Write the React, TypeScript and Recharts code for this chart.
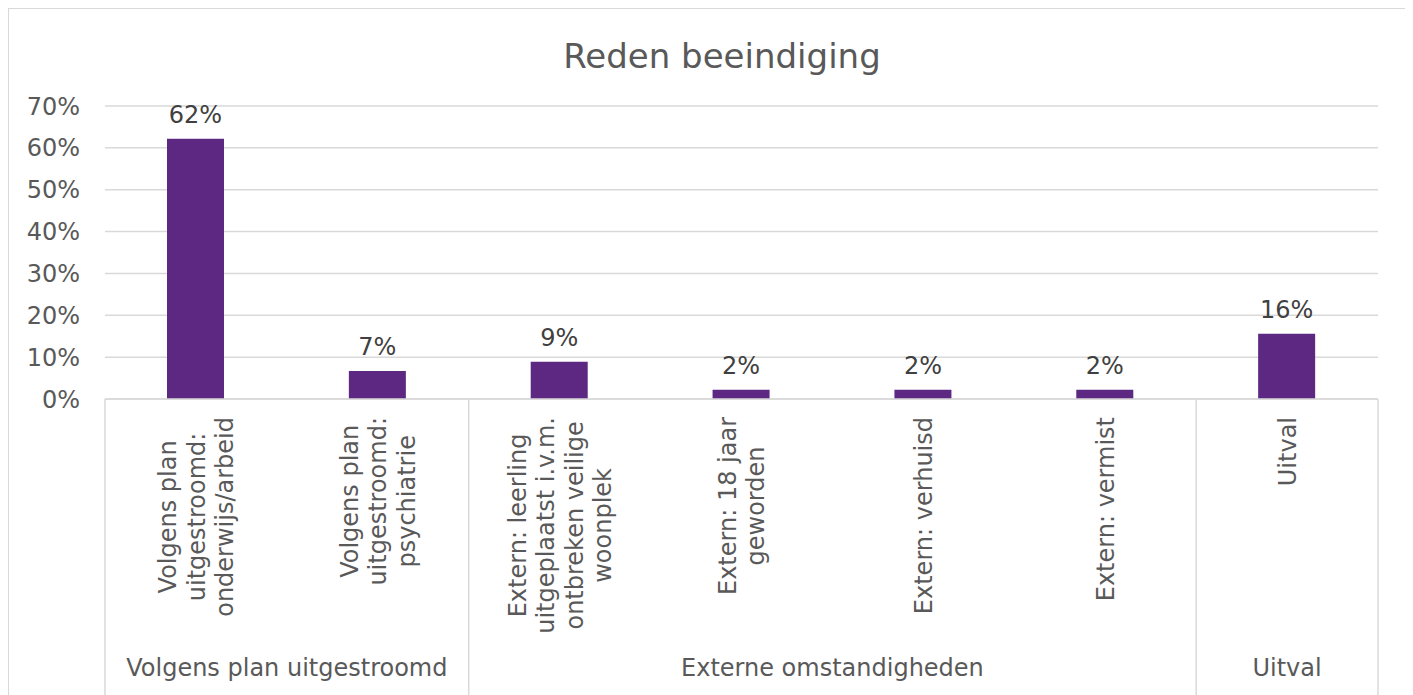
import { Bar, BarChart, CartesianGrid, LabelList, XAxis, YAxis } from "recharts"

// category labels, already wrapped the way the source wraps them
const categoryLines: string[][] = [
  ["Volgens plan", "uitgestroomd:", "onderwijs/arbeid"],
  ["Volgens plan", "uitgestroomd:", "psychiatrie"],
  ["Extern: leerling", "uitgeplaatst i.v.m.", "ontbreken veilige", "woonplek"],
  ["Extern: 18 jaar", "geworden"],
  ["Extern: verhuisd"],
  ["Extern: vermist"],
  ["Uitval"],
]
const groupNames = ["Volgens plan uitgestroomd", "Externe omstandigheden", "Uitval"]
const groupOfCategory = [0, 0, 1, 1, 1, 1, 2]
const shares = [62.2, 6.7, 8.9, 2.2, 2.2, 2.2, 15.6]
const yTicks = [0, 10, 20, 30, 40, 50, 60, 70]

const data = categoryLines.map((lines, i) => ({ name: lines.join(" "), value: shares[i] }))

const FONT = "'DejaVu Sans', Verdana, sans-serif"
const TEXT = "#595959"
const GRID = "#d9d9d9"
const PURPLE = "#5c2882"
const FS = 24
const LH = 28.5

let measureCtx: CanvasRenderingContext2D | null = null
function textWidth(s: string) {
  if (!measureCtx) measureCtx = document.createElement("canvas").getContext("2d")
  if (!measureCtx) return s.length * FS * 0.6
  measureCtx.font = `${FS}px ${FONT}`
  return measureCtx.measureText(s).width
}

function CategoryTick(props: any) {
  const { x, y, payload } = props
  const i: number = payload.index
  const half: number = payload.offset ?? 0
  const lines = categoryLines[i]
  const maxW = Math.max(...lines.map(textWidth))
  const g = groupOfCategory[i]
  const startsGroup = i === 0 || groupOfCategory[i - 1] !== g
  const isLast = i === categoryLines.length - 1
  const groupSize = groupOfCategory.filter((v) => v === g).length
  return (
    <g>
      <g transform={`translate(${x},${y + 18}) rotate(-90)`}>
        {lines.map((line, k) => (
          <text
            key={k}
            x={-maxW / 2}
            y={(k - (lines.length - 1) / 2) * LH + FS * 0.36}
            textAnchor="middle"
            fill={TEXT}
            fontSize={FS}
            fontFamily={FONT}
          >
            {line}
          </text>
        ))}
      </g>
      {startsGroup && <line x1={x - half} x2={x - half} y1={y} y2={y + 330} stroke={GRID} strokeWidth={1.5} />}
      {isLast && <line x1={x + half} x2={x + half} y1={y} y2={y + 330} stroke={GRID} strokeWidth={1.5} />}
      {startsGroup && (
        <text
          x={x - half + groupSize * half}
          y={y + 277}
          textAnchor="middle"
          fill={TEXT}
          fontSize={FS}
          fontFamily={FONT}
        >
          {groupNames[g]}
        </text>
      )}
    </g>
  )
}

export default function App() {
  return (
    <div
      style={{
        position: "relative",
        width: 1396,
        height: 700,
        border: `1.5px solid ${GRID}`,
        fontFamily: FONT,
        background: "#fff",
      }}
    >
      <div
        style={{
          position: "absolute",
          top: 30,
          left: 30,
          width: 1366,
          textAlign: "center",
          fontSize: 34,
          lineHeight: "34px",
          color: TEXT,
        }}
      >
        Reden beeindiging
      </div>
      <BarChart width={1396} height={700} data={data} margin={{ top: 97, right: 27, bottom: 0, left: 0 }}>
        <CartesianGrid stroke={GRID} strokeWidth={1.5} vertical={false} />
        <XAxis
          dataKey="name"
          interval={0}
          height={310}
          tickSize={0}
          tickMargin={0}
          axisLine={{ stroke: GRID, strokeWidth: 1.5 }}
          tickLine={false}
          tick={<CategoryTick />}
        />
        <YAxis
          width={96}
          domain={[0, 70]}
          ticks={yTicks}
          tickFormatter={(v) => `${v}%`}
          tickSize={0}
          tickMargin={25}
          axisLine={false}
          tickLine={false}
          tick={{ fill: TEXT, fontSize: FS, fontFamily: FONT }}
        />
        <Bar dataKey="value" fill={PURPLE} barSize={57} isAnimationActive={false}>
          <LabelList
            dataKey="value"
            position="top"
            offset={16}
            fill="#404040"
            fontSize={FS}
            fontFamily={FONT}
            formatter={(v: any) => `${Math.round(Number(v))}%`}
          />
        </Bar>
      </BarChart>
    </div>
  )
}
